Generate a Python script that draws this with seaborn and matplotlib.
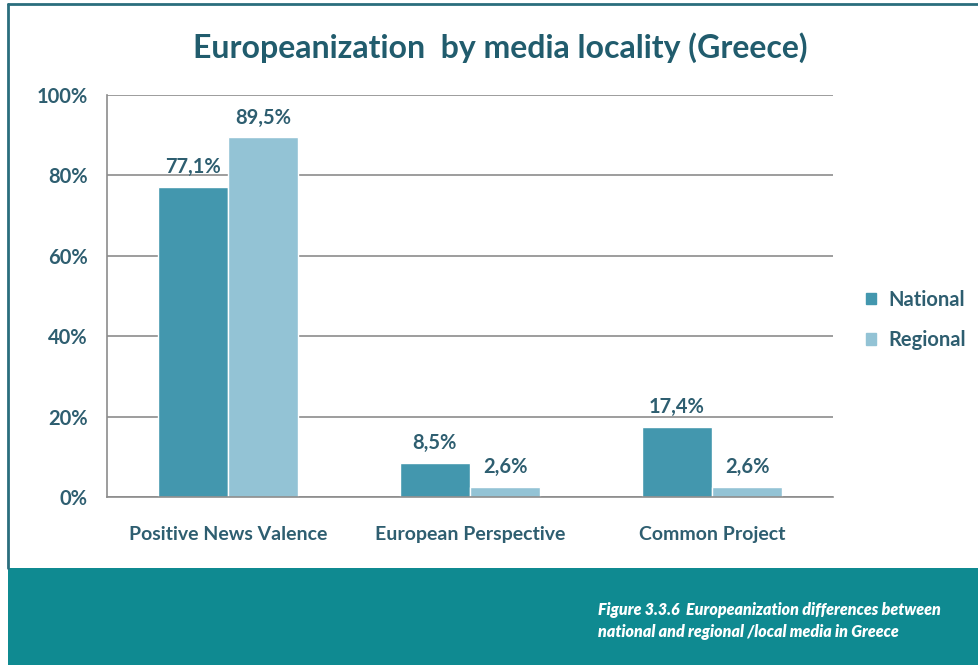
import matplotlib
matplotlib.use('Agg')
import matplotlib.pyplot as plt
import pandas as pd
import seaborn as sns
from matplotlib.patches import Rectangle
from matplotlib.lines import Line2D

# values
categories = ['Positive News Valence', 'European Perspective', 'Common Project']
national = [77.1, 8.5, 17.4]
regional = [89.5, 2.6, 2.6]
series_names = ['National', 'Regional']
y_ticks = [0, 20, 40, 60, 80, 100]

frame = pd.DataFrame({
    'category': categories * 2,
    'series': [series_names[0]] * 3 + [series_names[1]] * 3,
    'value': national + regional,
})

sns.set_style('white')
plt.rcParams['font.family'] = ['Lato', 'DejaVu Sans']

text_col = '#2E5E70'
colors = ['#4397AE', '#93C3D5']

fig = plt.figure(figsize=(9.79, 6.65), dpi=100)
ax = fig.add_axes([0.1093, 0.2526, 0.7416, 0.6045])

sns.barplot(data=frame, x='category', y='value', hue='series', palette=colors,
            order=categories, hue_order=series_names, width=0.58, saturation=1,
            ax=ax, legend=False)

ax.set_ylim(0, 100)
ax.set_yticks(y_ticks)
ax.set_yticklabels([f'{t}%' for t in y_ticks])
ax.set_xlim(-0.5, 2.5)
ax.yaxis.grid(True, color='#8c8c8c', linewidth=1.2)
ax.set_axisbelow(True)
ax.set_xlabel('')
ax.set_ylabel('')
for side in ['top', 'right']:
    ax.spines[side].set_visible(False)
for side in ['left', 'bottom']:
    ax.spines[side].set_color('#8c8c8c')
    ax.spines[side].set_linewidth(1.2)
ax.tick_params(axis='y', length=0, pad=14, labelsize=14.5, labelcolor=text_col)
ax.tick_params(axis='x', length=0, pad=21, labelsize=14, labelcolor=text_col)
for lab in ax.get_xticklabels() + ax.get_yticklabels():
    lab.set_fontweight('bold')

for cont in ax.containers:
    labels = [f'{v:.1f}%'.replace('.', ',') for v in cont.datavalues]
    ax.bar_label(cont, labels=labels, padding=7, fontsize=14.5,
                 fontweight='bold', color=text_col)

handles = [Rectangle((0, 0), 1, 1, color=c) for c in colors]
fig.legend(handles, series_names, loc='center left',
           bbox_to_anchor=(0.866, 0.519), frameon=False, handlelength=0.5,
           handleheight=0.5, handletextpad=0.6, labelspacing=1.0,
           prop={'size': 14.5, 'weight': 'bold'}, labelcolor=text_col)

fig.text(0.511, 0.928, 'Europeanization  by media locality (Greece)',
         ha='center', va='center', fontsize=23, fontweight='bold', color='#215C6D')

# frame and caption band
band_top = 1 - 568 / 665
fig.add_artist(Rectangle((8 / 979, 0), 1, band_top, transform=fig.transFigure,
                         facecolor='#0F8A91', edgecolor='none'))
fig.add_artist(Line2D([8 / 979, 1], [1 - 4 / 665] * 2, transform=fig.transFigure,
                      color='#2A6E7D', linewidth=2))
fig.add_artist(Line2D([8 / 979] * 2, [band_top, 1 - 4 / 665], transform=fig.transFigure,
                      color='#2A6E7D', linewidth=2))
fig.text(598 / 979, 1 - 621 / 665,
         'Figure 3.3.6  Europeanization differences between\nnational and regional /local media in Greece',
         ha='left', va='center', fontsize=11.5, fontweight='heavy', fontstyle='italic',
         color='white', linespacing=1.5)

fig.savefig('out.png', dpi=100)
